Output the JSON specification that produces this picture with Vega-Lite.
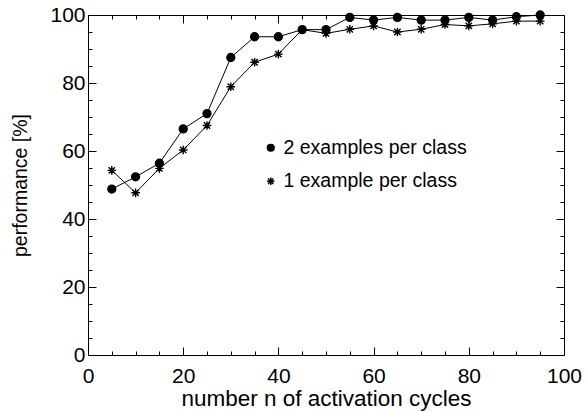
{
  "$schema": "https://vega.github.io/schema/vega-lite/v6.json",
  "width": 476,
  "height": 340,
  "autosize": "none",
  "padding": {"left": 88, "top": 15, "right": 23, "bottom": 57},
  "background": "white",
  "config": {
    "view": {"stroke": "black", "strokeWidth": 1},
    "font": "Liberation Sans"
  },
  "data": {
    "values": [
      {"n": 5, "series": "2 examples per class", "perf": 48.8},
      {"n": 10, "series": "2 examples per class", "perf": 52.4},
      {"n": 15, "series": "2 examples per class", "perf": 56.4},
      {"n": 20, "series": "2 examples per class", "perf": 66.5},
      {"n": 25, "series": "2 examples per class", "perf": 71.0},
      {"n": 30, "series": "2 examples per class", "perf": 87.5},
      {"n": 35, "series": "2 examples per class", "perf": 93.6},
      {"n": 40, "series": "2 examples per class", "perf": 93.6},
      {"n": 45, "series": "2 examples per class", "perf": 95.7},
      {"n": 50, "series": "2 examples per class", "perf": 95.7},
      {"n": 55, "series": "2 examples per class", "perf": 99.3},
      {"n": 60, "series": "2 examples per class", "perf": 98.5},
      {"n": 65, "series": "2 examples per class", "perf": 99.3},
      {"n": 70, "series": "2 examples per class", "perf": 98.5},
      {"n": 75, "series": "2 examples per class", "perf": 98.5},
      {"n": 80, "series": "2 examples per class", "perf": 99.3},
      {"n": 85, "series": "2 examples per class", "perf": 98.5},
      {"n": 90, "series": "2 examples per class", "perf": 99.5},
      {"n": 95, "series": "2 examples per class", "perf": 100},
      {"n": 5, "series": "1 example per class", "perf": 54.3},
      {"n": 10, "series": "1 example per class", "perf": 47.7},
      {"n": 15, "series": "1 example per class", "perf": 54.9},
      {"n": 20, "series": "1 example per class", "perf": 60.3},
      {"n": 25, "series": "1 example per class", "perf": 67.5},
      {"n": 30, "series": "1 example per class", "perf": 78.9},
      {"n": 35, "series": "1 example per class", "perf": 86.1},
      {"n": 40, "series": "1 example per class", "perf": 88.5},
      {"n": 45, "series": "1 example per class", "perf": 95.7},
      {"n": 50, "series": "1 example per class", "perf": 94.6},
      {"n": 55, "series": "1 example per class", "perf": 95.8},
      {"n": 60, "series": "1 example per class", "perf": 96.8},
      {"n": 65, "series": "1 example per class", "perf": 95.0},
      {"n": 70, "series": "1 example per class", "perf": 95.8},
      {"n": 75, "series": "1 example per class", "perf": 97.2},
      {"n": 80, "series": "1 example per class", "perf": 96.8},
      {"n": 85, "series": "1 example per class", "perf": 97.4},
      {"n": 90, "series": "1 example per class", "perf": 98.2},
      {"n": 95, "series": "1 example per class", "perf": 98.2}
    ]
  },
  "layer": [
    {
      "mark": {"type": "line", "color": "black", "strokeWidth": 1},
      "encoding": {
        "x": {
          "field": "n", "type": "quantitative",
          "scale": {"domain": [0, 100], "nice": false, "zero": false},
          "axis": {
            "orient": "bottom",
            "values": [0,5,10,15,20,25,30,35,40,45,50,55,60,65,70,75,80,85,90,95,100],
            "labelExpr": "datum.value % 20 === 0 ? datum.label : ''",
            "tickSize": {"condition": {"test": "datum.value % 20 === 0", "value": -8}, "value": -4},
            "tickColor": "black", "tickWidth": 1,
            "domain": false, "grid": false,
            "labelFontSize": 21, "labelColor": "black", "labelPadding": 18,
            "labelFlush": false, "labelOverlap": false,
            "title": "number n of activation cycles",
            "titleFontSize": 22.5, "titleFontWeight": "normal", "titleColor": "black", "titlePadding": -3
          }
        },
        "y": {
          "field": "perf", "type": "quantitative",
          "scale": {"domain": [0, 100], "nice": false, "zero": false},
          "axis": {
            "orient": "left",
            "values": [0,5,10,15,20,25,30,35,40,45,50,55,60,65,70,75,80,85,90,95,100],
            "labelExpr": "datum.value % 20 === 0 ? datum.label : ''",
            "tickSize": {"condition": {"test": "datum.value % 20 === 0", "value": -8}, "value": -4},
            "tickColor": "black", "tickWidth": 1,
            "domain": false, "grid": false,
            "labelFontSize": 21, "labelColor": "black", "labelPadding": 11,
            "labelFlush": false, "labelOverlap": false,
            "title": "performance [%]",
            "titleFontSize": 19.5, "titleFontWeight": "normal", "titleColor": "black", "titlePadding": 19
          }
        },
        "detail": {"field": "series"}
      }
    },
    {
      "mark": {"type": "point", "fill": "black", "stroke": "black", "strokeWidth": 1.4, "size": 62, "opacity": 1},
      "encoding": {
        "x": {
          "field": "n", "type": "quantitative",
          "axis": {
            "orient": "top",
            "values": [0,5,10,15,20,25,30,35,40,45,50,55,60,65,70,75,80,85,90,95,100],
            "labels": false,
            "tickSize": {"condition": {"test": "datum.value % 20 === 0", "value": -8}, "value": -4},
            "tickColor": "black", "tickWidth": 1,
            "domain": false, "grid": false, "title": null
          }
        },
        "y": {
          "field": "perf", "type": "quantitative",
          "axis": {
            "orient": "right",
            "values": [0,5,10,15,20,25,30,35,40,45,50,55,60,65,70,75,80,85,90,95,100],
            "labels": false,
            "tickSize": {"condition": {"test": "datum.value % 20 === 0", "value": -8}, "value": -4},
            "tickColor": "black", "tickWidth": 1,
            "domain": false, "grid": false, "title": null
          }
        },
        "shape": {
          "field": "series", "type": "nominal",
          "scale": {
            "domain": ["2 examples per class", "1 example per class"],
            "range": ["circle", "M-1.1,0L1.1,0M0,-1.1L0,1.1M-0.8,-0.8L0.8,0.8M-0.8,0.8L0.8,-0.8"]
          },
          "legend": {
            "orient": "none", "legendX": 173, "legendY": 123,
            "title": null, "padding": 0,
            "labelFontSize": 19.5, "labelColor": "black", "labelOffset": 3,
            "symbolSize": 45, "rowPadding": 12.5, "labelLimit": 400,
            "encode": {
              "symbols": {
                "update": {
                  "fill": {"value": "black"},
                  "stroke": {"value": "black"},
                  "strokeWidth": {"value": 1.2}
                }
              }
            }
          }
        }
      }
    }
  ],
  "resolve": {"axis": {"x": "independent", "y": "independent"}}
}
